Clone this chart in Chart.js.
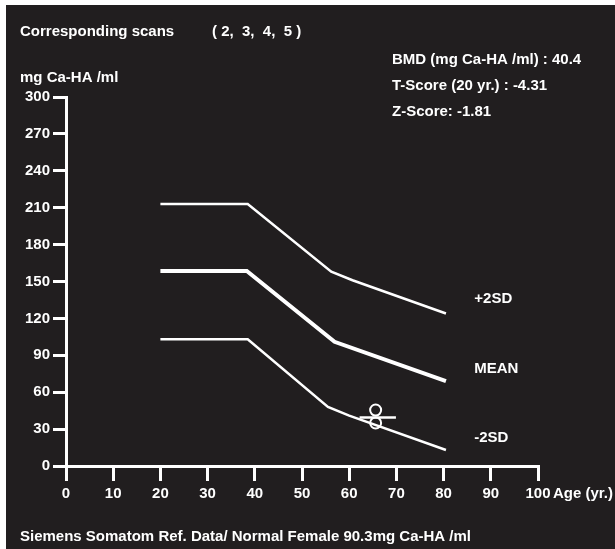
<!DOCTYPE html>
<html>
<head>
<meta charset="utf-8">
<script src="https://cdn.jsdelivr.net/npm/chart.js@4/dist/chart.umd.min.js"></script>
<style>
  html, body { margin: 0; padding: 0; background: #ffffff; }
  #wrap { position: absolute; left: 6px; top: 5px; width: 609px; height: 544px; background: #211e1f; }
</style>
</head>
<body>
<div id="wrap"><canvas id="bmdChart" width="609" height="544"></canvas></div>
<script>
// reference curves (age in years, mg Ca-HA/ml)
var plusAges = [20, 38.5, 56.2, 60.7, 80.5];
var plusValues = [213, 213, 158, 151, 124];
var meanAges = [20, 38.3, 56.9, 80.5];
var meanValues = [158.5, 158.5, 101, 69];
var minusAges = [20, 38.5, 55.5, 60, 80.5];
var minusValues = [103, 103, 48, 41, 13];

// patient scans
var scanAges = [65.6, 65.6];
var scanValues = [45.5, 35];
var bmdBarAges = [62.2, 69.9];
var bmdBarValues = [39.5, 39.5];

var xTicks = [0, 10, 20, 30, 40, 50, 60, 70, 80, 90, 100];
var yTicks = [0, 30, 60, 90, 120, 150, 180, 210, 240, 270, 300];

var curveLabels = [
  { text: "+2SD", x: 86.5, y: 136 },
  { text: "MEAN", x: 86.5, y: 79 },
  { text: "-2SD", x: 86.5, y: 23 },
];

function toPoints(xs, ys) {
  return xs.map((x, i) => ({ x: x, y: ys[i] }));
}

var FAMILY = "'Liberation Sans', Arial, sans-serif";
var FONT = "bold 15px " + FAMILY;

// texte autour du graphique
var textPlugin = {
  id: "texts",
  afterDraw: function (chart) {
    var c = chart.ctx;
    var xs = chart.scales.x;
    var ys = chart.scales.y;
    c.save();
    c.fillStyle = "#ffffff";
    c.font = FONT;
    c.textBaseline = "middle";
    c.textAlign = "left";
    c.fillText("Corresponding scans", 14, 27);
    c.fillText("( 2,  3,  4,  5 )", 206, 27);
    c.fillText("mg Ca-HA /ml", 14, 73);
    c.fillText("BMD (mg Ca-HA /ml) : 40.4", 386, 55);
    c.fillText("T-Score (20 yr.) : -4.31", 386, 81);
    c.fillText("Z-Score: -1.81", 386, 107);
    c.fillText("Age (yr.)", 547, 489);
    c.fillText("Siemens Somatom Ref. Data/ Normal Female 90.3mg Ca-HA /ml", 14, 532);
    curveLabels.forEach((l) => {
      c.fillText(l.text, xs.getPixelForValue(l.x), ys.getPixelForValue(l.y));
    });
    c.restore();
  },
};

var ctx = document.getElementById("bmdChart").getContext("2d");
var bmdChart = new Chart(ctx, {
  type: "line",
  data: {
    datasets: [
      { data: toPoints(plusAges, plusValues), borderColor: "#ffffff", borderWidth: 2.5, pointRadius: 0 },
      { data: toPoints(meanAges, meanValues), borderColor: "#ffffff", borderWidth: 4, pointRadius: 0 },
      { data: toPoints(minusAges, minusValues), borderColor: "#ffffff", borderWidth: 2.5, pointRadius: 0 },
      { data: toPoints(bmdBarAges, bmdBarValues), borderColor: "#ffffff", borderWidth: 2.5, pointRadius: 0 },
      {
        type: "scatter",
        data: toPoints(scanAges, scanValues),
        showLine: false,
        pointStyle: "circle",
        pointRadius: 5.5,
        pointBorderWidth: 2,
        pointBorderColor: "#ffffff",
        pointBackgroundColor: "#211e1f",
      },
    ],
  },
  plugins: [textPlugin],
  options: {
    responsive: false,
    animation: false,
    layout: { padding: { top: 92, right: 77, left: 0, bottom: 0 } },
    plugins: { legend: { display: false }, tooltip: { enabled: false } },
    scales: {
      x: {
        type: "linear",
        min: 0,
        max: 100,
        afterBuildTicks: (s) => { s.ticks = xTicks.map((v) => ({ value: v })); },
        afterFit: (s) => { s.height = 83; },
        border: { color: "#ffffff", width: 3 },
        grid: { drawOnChartArea: false, color: "#ffffff", lineWidth: 3, tickLength: 15 },
        ticks: { color: "#ffffff", font: { family: FAMILY, size: 15, weight: "bold" }, padding: 4, maxRotation: 0 },
      },
      y: {
        min: 0,
        max: 300,
        afterBuildTicks: (s) => { s.ticks = yTicks.map((v) => ({ value: v })); },
        afterFit: (s) => { s.width = 60; },
        border: { color: "#ffffff", width: 3 },
        grid: { drawOnChartArea: false, color: "#ffffff", lineWidth: 3, tickLength: 13 },
        ticks: { color: "#ffffff", font: { family: FAMILY, size: 15, weight: "bold" }, padding: 3 },
      },
    },
  },
});
</script>
</body>
</html>
